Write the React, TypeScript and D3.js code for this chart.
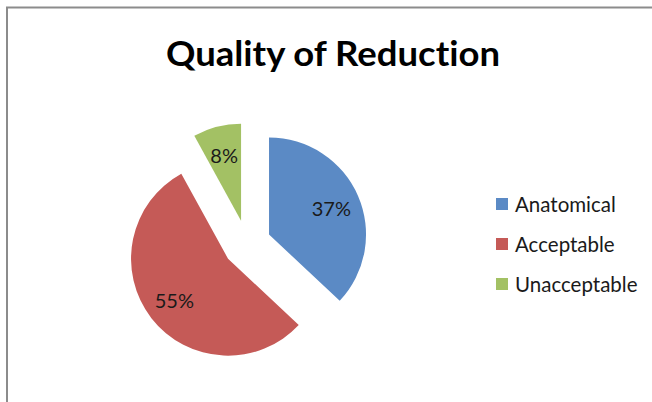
import React from "react";
import * as d3 from "d3";

const title = "Quality of Reduction";
const categories = ["Anatomical", "Acceptable", "Unacceptable"];
const values = [37, 55, 8];
const colors = ["#5B8AC5", "#C55A57", "#A3C164"];

const W = 652;
const H = 402;
const cx = 247;
const cy = 244;
const R = 97;
const explode = 24;
const font = "Lato, 'Open Sans', sans-serif";
const noLig = { fontVariantLigatures: "none", fontFeatureSettings: '"liga" 0, "clig" 0' } as React.CSSProperties;

export default function App() {
  const pie = d3.pie<number>().sort(null).value((d) => d);
  const arcs = pie(values);
  const arc = d3.arc<d3.PieArcDatum<number>>().innerRadius(0).outerRadius(R);
  const labelArc = d3
    .arc<d3.PieArcDatum<number>>()
    .innerRadius(R * 0.7)
    .outerRadius(R * 0.7);
  const total = d3.sum(values);
  const legendY = d3.scalePoint<string>().domain(categories).range([204, 284]);

  return (
    <svg
      width={W}
      height={H}
      style={{ position: "absolute", left: 0, top: 0, background: "#fff" }}
    >
      <rect x={0} y={0} width={W} height={H} fill="#fff" />
      <rect
        x={7}
        y={7.5}
        width={W + 20}
        height={H + 20}
        fill="none"
        stroke="#8c8c8c"
        strokeWidth={2}
      />
      <text
        x={333}
        y={66}
        textAnchor="middle"
        fontFamily={font}
        fontWeight="bold"
        fontSize={35}
        textLength={334}
        lengthAdjust="spacingAndGlyphs"
        fill="#000"
        style={noLig}
      >
        {title}
      </text>
      <g transform={`translate(${cx},${cy})`}>
        {arcs.map((a, i) => {
          const mid = (a.startAngle + a.endAngle) / 2;
          const dx = Math.sin(mid) * explode;
          const dy = -Math.cos(mid) * explode;
          const [lx, ly] = labelArc.centroid(a);
          return (
            <g key={categories[i]} transform={`translate(${dx},${dy})`}>
              <path d={arc(a) || ""} fill={colors[i]} />
              <text
                x={lx}
                y={ly}
                textAnchor="middle"
                dominantBaseline="central"
                fontFamily={font}
                fontSize={20}
                fill="#1a1a1a"
              >
                {Math.round((a.value / total) * 100) + "%"}
              </text>
            </g>
          );
        })}
      </g>
      {categories.map((c, i) => (
        <g key={c} transform={`translate(496,${legendY(c)})`}>
          <rect x={0} y={-6} width={12} height={12} fill={colors[i]} />
          <text
            x={19}
            y={0}
            dominantBaseline="central"
            fontFamily={font}
            fontSize={20.5}
            fill="#1a1a1a"
          >
            {c}
          </text>
        </g>
      ))}
    </svg>
  );
}
